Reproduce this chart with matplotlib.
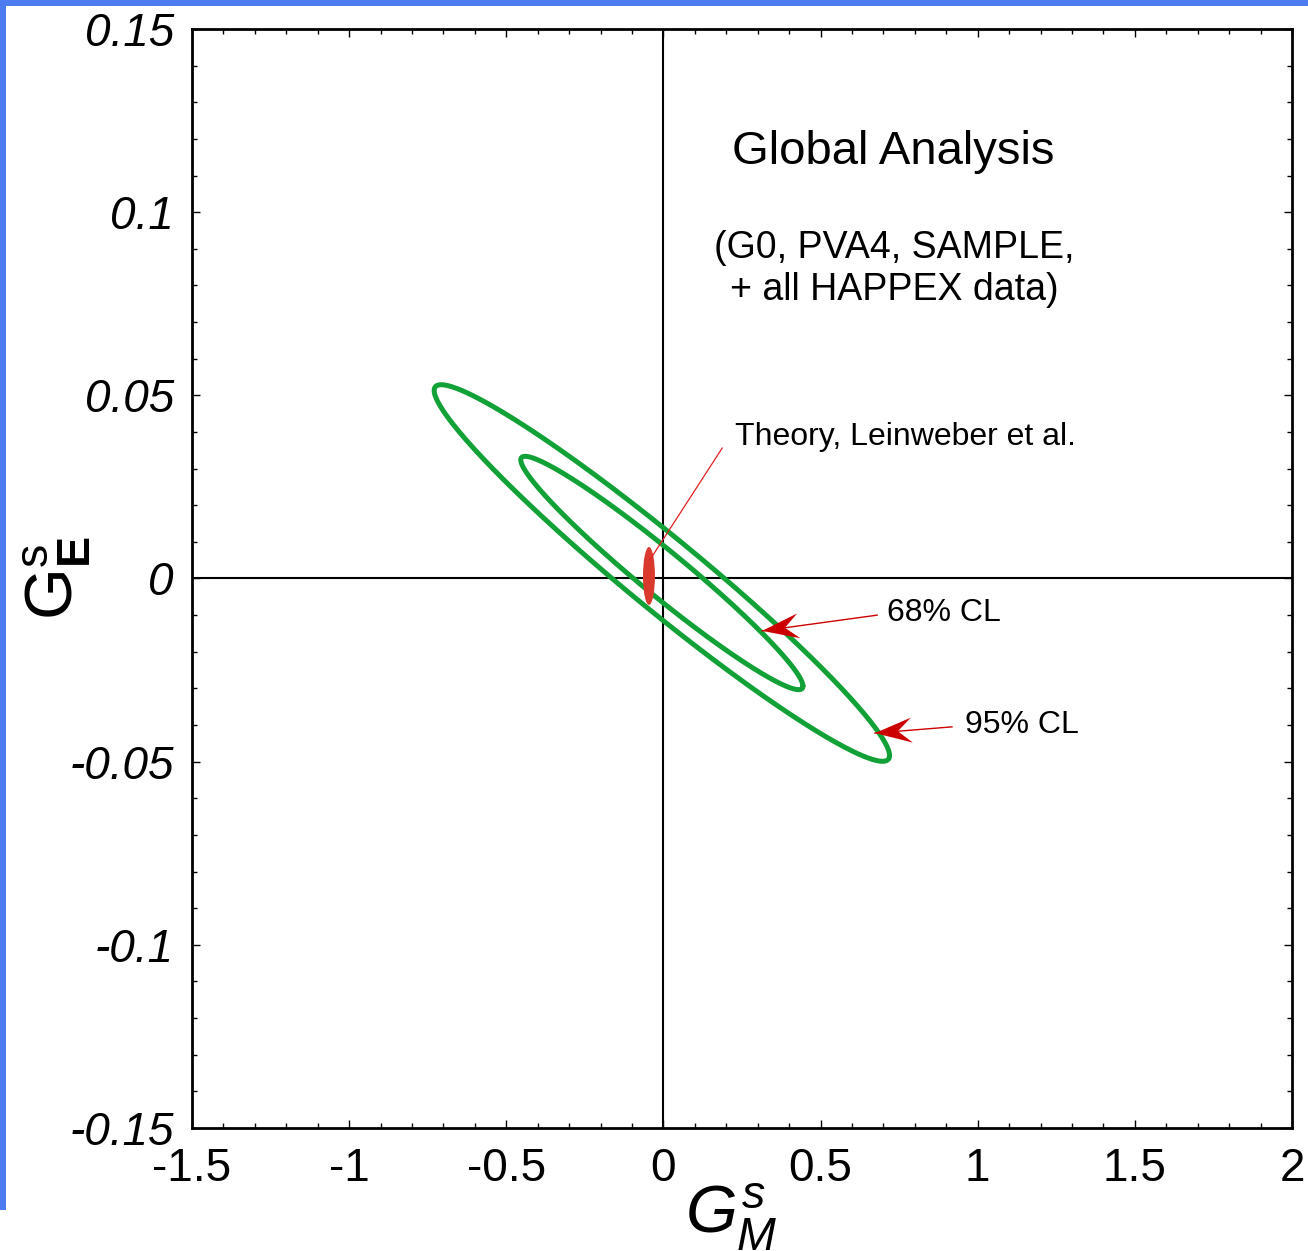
import numpy as np
import matplotlib
matplotlib.use("Agg")
import matplotlib.pyplot as plt
from matplotlib.patches import Ellipse, Rectangle, Polygon
from matplotlib.ticker import MultipleLocator

plt.rcParams['font.family'] = ['Liberation Sans', 'DejaVu Sans']
plt.rcParams['mathtext.fontset'] = 'custom'
plt.rcParams['mathtext.rm'] = 'Liberation Sans'
plt.rcParams['mathtext.it'] = 'Liberation Sans:italic'
plt.rcParams['mathtext.bf'] = 'Liberation Sans:bold'

# fit result (G_M^s, G_E^s)
fit_center = [-0.005, 0.0015]
fit_sigma = [0.296, 0.021]
fit_rho = -0.969
cl_labels = ["68% CL", "95% CL"]
cl_dchi2 = [2.30, 5.99]

# theory point (Leinweber et al.)
theory_center = [-0.046, 0.0007]
theory_size = [0.038, 0.0158]

# annotation anchor points: (tip, text start)
arrow_tips = [(0.314, -0.0143), (0.673, -0.0422)]
arrow_tails = [(0.68, -0.0100), (0.918, -0.0405)]
label_pos = [(0.71, -0.0094), (0.959, -0.0400)]
theory_line = [(0.187, 0.0356), (-0.043, 0.0051)]
theory_text_pos = (0.227, 0.0385)

xticks = [-1.5, -1, -0.5, 0, 0.5, 1, 1.5, 2]
xticklabels = ["-1.5", "-1", "-0.5", "0", "0.5", "1", "1.5", "2"]
yticks = [-0.15, -0.1, -0.05, 0, 0.05, 0.1, 0.15]
yticklabels = ["-0.15", "-0.1", "-0.05", "0", "0.05", "0.1", "0.15"]

W, H = 1308, 1251
fig = plt.figure(figsize=(W / 100, H / 100), dpi=100)

# slide background strips (top and left)
blue = '#4d7cf0'
fig.patches.append(Rectangle((0, 1 - 6 / H), 1, 6 / H, transform=fig.transFigure,
                             facecolor=blue, edgecolor='none', zorder=0))
fig.patches.append(Rectangle((0, 1 - 1210 / H), 6 / W, 1210 / H, transform=fig.transFigure,
                             facecolor=blue, edgecolor='none', zorder=0))

ax = fig.add_axes([192 / W, 1 - 1128 / H, 1100 / W, 1099 / H])
ax.set_xlim(-1.5, 2)
ax.set_ylim(-0.15, 0.15)

# zero lines
ax.axhline(0, color='black', lw=1.5, zorder=1)
ax.axvline(0, color='black', lw=1.5, zorder=1)

# confidence-level contours
t = np.linspace(0, 2 * np.pi, 400)
for k in cl_dchi2:
    r = np.sqrt(k)
    gx = fit_center[0] + r * fit_sigma[0] * np.cos(t)
    gy = fit_center[1] + r * fit_sigma[1] * (fit_rho * np.cos(t) + np.sqrt(1 - fit_rho ** 2) * np.sin(t))
    ax.plot(gx, gy, color='#12a136', lw=3.6, zorder=3, solid_capstyle='round')

# theory blob
ax.add_patch(Ellipse(theory_center, theory_size[0], theory_size[1],
                     facecolor='#da3a2e', edgecolor='none', zorder=4))
ax.plot([theory_line[0][0], theory_line[1][0]], [theory_line[0][1], theory_line[1][1]],
        color='#e02020', lw=0.9, zorder=5)
ax.text(theory_text_pos[0], theory_text_pos[1], "Theory, Leinweber et al.",
        fontsize=23, ha='left', va='center')


def stealth_arrow(tip, tail, length=37, half_w=12.5, notch=0.62, color='#cc0000'):
    # line plus a swept-back arrowhead drawn in pixel space
    p_tip = ax.transData.transform(tip)
    p_tail = ax.transData.transform(tail)
    d = p_tip - p_tail
    d = d / np.hypot(*d)
    n = np.array([-d[1], d[0]])
    back = p_tip - d * length
    pts = [p_tip, back + n * half_w, p_tip - d * length * notch, back - n * half_w]
    ax.plot([tail[0], tip[0]], [tail[1], tip[1]], color=color, lw=1.0, zorder=6)
    fig.patches.append(Polygon(pts, closed=True, transform=None, facecolor=color,
                               edgecolor='none', zorder=7))


for lab, tip, tail, pos in zip(cl_labels, arrow_tips, arrow_tails, label_pos):
    stealth_arrow(tip, tail)
    ax.text(pos[0], pos[1], lab, fontsize=23, ha='left', va='center')

ax.text(0.73, 0.1165, "Global Analysis", fontsize=34, ha='center', va='center')
ax.text(0.735, 0.0845, "(G0, PVA4, SAMPLE,\n+ all HAPPEX data)", fontsize=27,
        ha='center', va='center', linespacing=1.2)

# ticks
ax.set_xticks(xticks)
ax.set_xticklabels(xticklabels, fontsize=33)
ax.set_yticks(yticks)
ax.set_yticklabels(yticklabels, fontsize=33, style='italic')
ax.xaxis.set_minor_locator(MultipleLocator(0.1))
ax.yaxis.set_minor_locator(MultipleLocator(0.01))
ax.tick_params(which='both', direction='in', top=True, right=True, width=1.0)
ax.tick_params(which='major', length=6)
ax.tick_params(which='minor', length=3.5)
ax.tick_params(axis='x', which='major', pad=14)
ax.tick_params(axis='y', which='major', pad=13)
for s in ax.spines.values():
    s.set_linewidth(2.0)

# axis labels
fig.text(731 / W, 1 - 1217 / H, r'$G_M^s$', fontsize=48, ha='center', va='center')
fig.text(57 / W, 1 - 578 / H, r'$\mathregular{G_{\mathbf{E}}^s}$', fontsize=48,
         rotation=90, ha='center', va='center')

fig.savefig("out.png", dpi=100, facecolor='white')
